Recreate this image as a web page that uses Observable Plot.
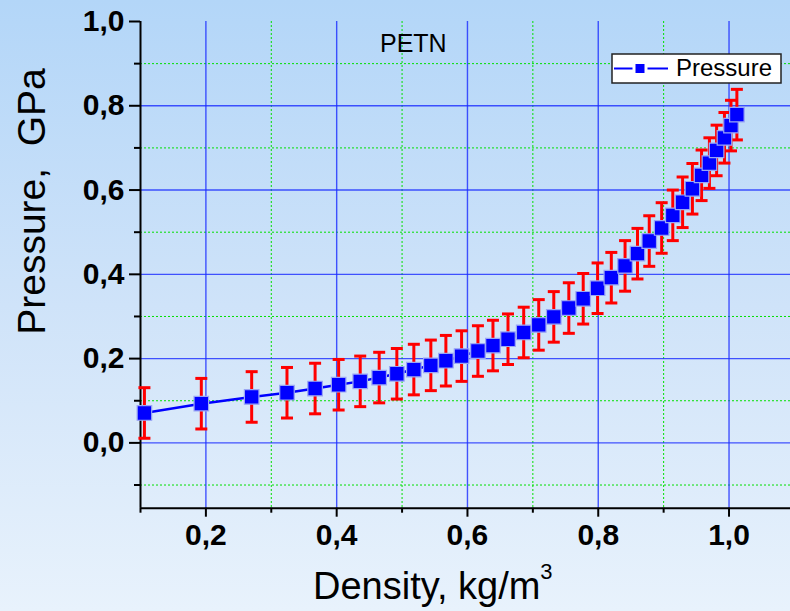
<!DOCTYPE html>
<html>
<head>
<meta charset="utf-8">
<script src="https://cdn.jsdelivr.net/npm/d3@7"></script>
<script src="https://cdn.jsdelivr.net/npm/@observablehq/plot@0.6"></script>
<style>
  html, body { margin: 0; padding: 0; }
  body { width: 790px; height: 611px; overflow: hidden;
         background: linear-gradient(to bottom, #b3d6f8 0%, #cfe3f9 50%, #e8f2fc 100%); }
  #chart svg { display: block; }
</style>
</head>
<body>
<div id="chart"></div>
<script>
// ---- data ----
const density = [0.106, 0.193, 0.270, 0.324, 0.367, 0.403, 0.436, 0.465, 0.492, 0.518,
                 0.544, 0.567, 0.591, 0.616, 0.639, 0.662, 0.686, 0.709, 0.732, 0.755,
                 0.777, 0.799, 0.820, 0.841, 0.860, 0.878, 0.897, 0.914, 0.929, 0.944,
                 0.958, 0.970, 0.981, 0.993, 1.003, 1.012];
const pressure = [0.071, 0.093, 0.109, 0.119, 0.129, 0.138, 0.146, 0.155, 0.164, 0.174,
                  0.184, 0.195, 0.206, 0.218, 0.231, 0.246, 0.262, 0.280, 0.299, 0.320,
                  0.342, 0.367, 0.392, 0.420, 0.449, 0.479, 0.510, 0.540, 0.571, 0.603,
                  0.635, 0.664, 0.694, 0.724, 0.753, 0.779];
const pressureErr = [0.06, 0.06, 0.06, 0.06, 0.06, 0.06, 0.06, 0.06, 0.06, 0.06,
                     0.06, 0.06, 0.06, 0.06, 0.06, 0.06, 0.06, 0.06, 0.06, 0.06,
                     0.06, 0.06, 0.06, 0.06, 0.06, 0.06, 0.06, 0.06, 0.06, 0.06,
                     0.06, 0.06, 0.06, 0.06, 0.06, 0.06];
const xMajorTicks = [0.2, 0.4, 0.6, 0.8, 1.0];
const xMinorTicks = [0.1, 0.3, 0.5, 0.7, 0.9];
const yMajorTicks = [0.0, 0.2, 0.4, 0.6, 0.8, 1.0];
const yMinorTicks = [-0.1, 0.1, 0.3, 0.5, 0.7, 0.9];
const xDomain = [0.1, 1.094];
const yDomain = [-0.155, 1.0];
const seriesName = "Pressure";
const annotation = "PETN";
const xTitle = "Density, kg/m";
const xTitleSup = "3";
const yTitle = "Pressure,\u00a0 GPa";

const data = density.map((x, i) => ({x, y: pressure[i], e: pressureErr[i]}));
const fmt = d => d.toFixed(1).replace(".", ",");

const capSymbol = {
  draw(ctx, size) {
    const w = Math.sqrt(size / Math.PI);
    ctx.moveTo(-w, 0);
    ctx.lineTo(w, 0);
  }
};

const W = 790, H = 611;
const plot = Plot.plot({
  width: W, height: H,
  marginLeft: 140, marginRight: 0, marginTop: 21, marginBottom: 103.3,
  x: {domain: xDomain},
  y: {domain: yDomain},
  style: {background: "transparent", fontFamily: "Liberation Sans, Arial, sans-serif",
          fontSize: "30px", fontWeight: "bold", color: "black"},
  marks: [
    // minor grid (green dotted)
    Plot.ruleX(xMinorTicks.filter(d => d > xDomain[0]), {stroke: "#00e000", strokeWidth: 1, strokeDasharray: "2,2"}),
    Plot.ruleY(yMinorTicks, {stroke: "#00e000", strokeWidth: 1, strokeDasharray: "2,2"}),
    // major grid (blue)
    Plot.ruleX(xMajorTicks, {stroke: "#1a2cff", strokeWidth: 1.4, strokeOpacity: 0.8}),
    Plot.ruleY(yMajorTicks.filter(d => d < yDomain[1]), {stroke: "#1a2cff", strokeWidth: 1.4, strokeOpacity: 0.8}),
    // axes lines
    Plot.ruleX([xDomain[0]], {stroke: "black", strokeWidth: 2}),
    Plot.ruleY([yDomain[0]], {stroke: "black", strokeWidth: 2}),
    // ticks and labels
    Plot.axisY(yMajorTicks, {tickSize: 11, tickPadding: 5, tickFormat: fmt, strokeWidth: 2,
                             fontSize: 30, fontWeight: "bold", label: null}),
    Plot.axisY(yMinorTicks, {tickSize: 6, tickFormat: () => "", strokeWidth: 2, label: null}),
    Plot.axisX(xMajorTicks, {tickSize: 9, tickPadding: 6, tickFormat: fmt, strokeWidth: 2,
                             fontSize: 30, fontWeight: "bold", label: null}),
    Plot.axisX(xMinorTicks, {tickSize: 5, tickFormat: () => "", strokeWidth: 2, label: null}),
    // data line
    Plot.line(data, {x: "x", y: "y", stroke: "#0000ff", strokeWidth: 2.5}),
    // error bars
    Plot.ruleX(data, {x: "x", y1: d => d.y - d.e, y2: d => d.y + d.e, stroke: "#ff0000", strokeWidth: 3}),
    Plot.dot(data, {x: "x", y: d => d.y + d.e, symbol: capSymbol, r: 6, stroke: "#ff0000", strokeWidth: 3, fill: "none"}),
    Plot.dot(data, {x: "x", y: d => d.y - d.e, symbol: capSymbol, r: 6, stroke: "#ff0000", strokeWidth: 3, fill: "none"}),
    // markers
    Plot.dot(data, {x: "x", y: "y", symbol: "square", r: 8.2, fill: "#0000ff", stroke: "#9aa6f4", strokeWidth: 1.2})
  ]
});
document.getElementById("chart").appendChild(plot);

// titles, annotation and legend
const svg = d3.select(plot);
const font = "Liberation Sans, Arial, sans-serif";

svg.append("text")
  .attr("transform", "translate(45,201.5) rotate(-90)")
  .attr("text-anchor", "middle")
  .attr("font-family", font).attr("font-size", 39).attr("font-weight", "normal")
  .attr("fill", "black")
  .text(yTitle);

const xt = svg.append("text")
  .attr("x", 313).attr("y", 599)
  .attr("text-anchor", "start")
  .attr("font-family", font).attr("font-size", 38).attr("font-weight", "normal")
  .attr("fill", "black");
xt.append("tspan").text(xTitle);
xt.append("tspan").attr("dy", -20).attr("font-size", 22).text(xTitleSup);

svg.append("text")
  .attr("x", 380).attr("y", 52)
  .attr("text-anchor", "start")
  .attr("font-family", font).attr("font-size", 25).attr("font-weight", "normal")
  .attr("fill", "black")
  .text(annotation);

const lg = svg.append("g");
lg.append("rect").attr("x", 612).attr("y", 54).attr("width", 169).attr("height", 29)
  .attr("fill", "white").attr("stroke", "#222").attr("stroke-width", 1.5);
lg.append("line").attr("x1", 614).attr("x2", 632.5).attr("y1", 68.5).attr("y2", 68.5)
  .attr("stroke", "#0000ff").attr("stroke-width", 2);
lg.append("line").attr("x1", 647.5).attr("x2", 668).attr("y1", 68.5).attr("y2", 68.5)
  .attr("stroke", "#0000ff").attr("stroke-width", 2);
lg.append("rect").attr("x", 635.5).attr("y", 64).attr("width", 9).attr("height", 9)
  .attr("fill", "#0000ff");
lg.append("text").attr("x", 676).attr("y", 76)
  .attr("text-anchor", "start")
  .attr("font-family", font).attr("font-size", 24).attr("font-weight", "normal")
  .attr("fill", "black").text(seriesName);
</script>
</body>
</html>
